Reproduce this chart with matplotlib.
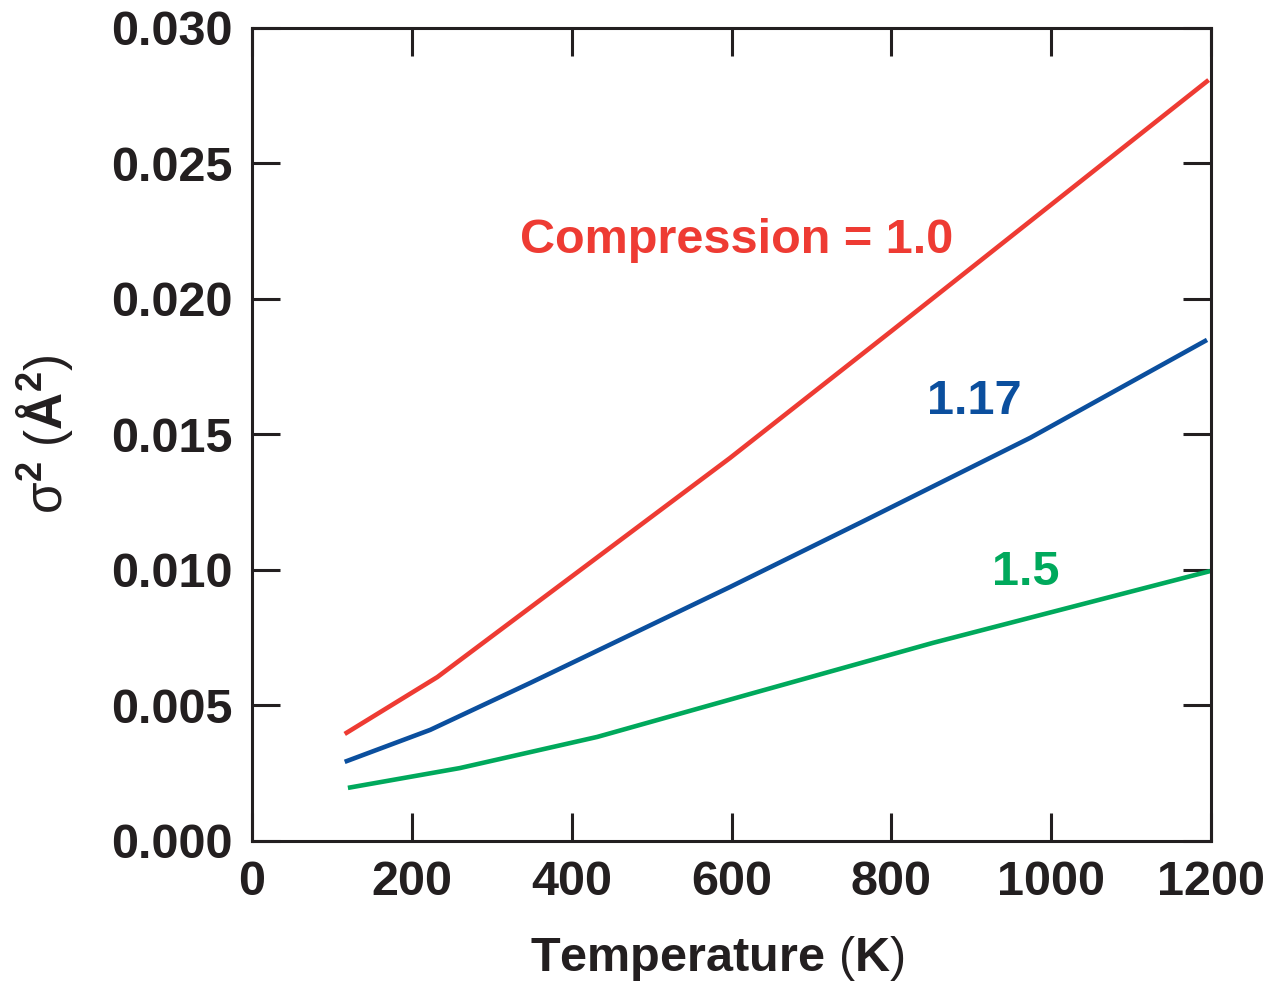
import numpy as np
import matplotlib.pyplot as plt

# data
temp_red = [116, 232, 598, 802, 1197]
sig_red = [0.00395, 0.00605, 0.01413, 0.01886, 0.02808]

temp_blue = [116, 223, 348, 473, 598, 765, 974, 1195]
sig_blue = [0.00292, 0.0041, 0.00583, 0.0076, 0.00937, 0.0118, 0.01488, 0.01849]

temp_green = [120, 260, 432, 619, 852, 1199]
sig_green = [0.00196, 0.00269, 0.00384, 0.00539, 0.00731, 0.00996]

xticks = [0, 200, 400, 600, 800, 1000, 1200]
yticks = [0.000, 0.005, 0.010, 0.015, 0.020, 0.025, 0.030]

red = '#ee3b33'
blue = '#0b4f9e'
green = '#00a95c'
dark = '#231f20'

plt.rcParams['font.family'] = ['Liberation Sans', 'DejaVu Sans']
plt.rcParams['mathtext.fontset'] = 'custom'
plt.rcParams['mathtext.rm'] = 'Liberation Sans'
plt.rcParams['mathtext.bf'] = 'Liberation Sans:bold'
plt.rcParams['mathtext.it'] = 'Liberation Sans'

fig = plt.figure(figsize=(12.67, 9.82), dpi=100)
ax = fig.add_axes([0.1989, 0.1436, 0.7569, 0.8279])

ax.plot(temp_red, sig_red, color=red, lw=3.3, solid_capstyle='butt')
ax.plot(temp_blue, sig_blue, color=blue, lw=3.3, solid_capstyle='butt')
ax.plot(temp_green, sig_green, color=green, lw=3.3, solid_capstyle='butt')

ax.set_xlim(0, 1200)
ax.set_ylim(0, 0.030)
ax.set_xticks(xticks)
ax.set_yticks(yticks)
ax.set_xticklabels([str(t) for t in xticks])
ax.set_yticklabels(['%.3f' % t for t in yticks])

for s in ax.spines.values():
    s.set_linewidth(2.2)
    s.set_color(dark)
ax.tick_params(direction='in', length=20, width=2.2, color=dark,
               top=True, right=True, labelsize=35, labelcolor=dark)
ax.tick_params(axis='x', pad=14)
ax.tick_params(axis='y', pad=14)
for lab in ax.get_xticklabels() + ax.get_yticklabels():
    lab.set_fontweight('bold')

ax.set_xlabel(r'$\mathbf{Temperature}\ \mathrm{(}\mathbf{K}\mathrm{)}$',
              fontsize=35, color=dark, va='center')
ax.xaxis.set_label_coords(0.485, -0.144)
ax.set_ylabel(r'$\mathrm{σ}^{\mathbf{2}}\ \mathrm{(}\mathbf{Å}^{\mathbf{2}}\mathrm{)}$',
              fontsize=37, color=dark, va='center', ha='center')
ax.yaxis.set_label_coords(-0.216, 0.5)

ax.text(335, 0.02214, 'Compression = 1.0', color=red, fontsize=35,
        fontweight='bold', va='center', ha='left')
ax.text(845, 0.0162, '1.17', color=blue, fontsize=35,
        fontweight='bold', va='center', ha='left')
ax.text(926, 0.00989, '1.5', color=green, fontsize=35,
        fontweight='bold', va='center', ha='left')

fig.savefig('out.png', dpi=100)
